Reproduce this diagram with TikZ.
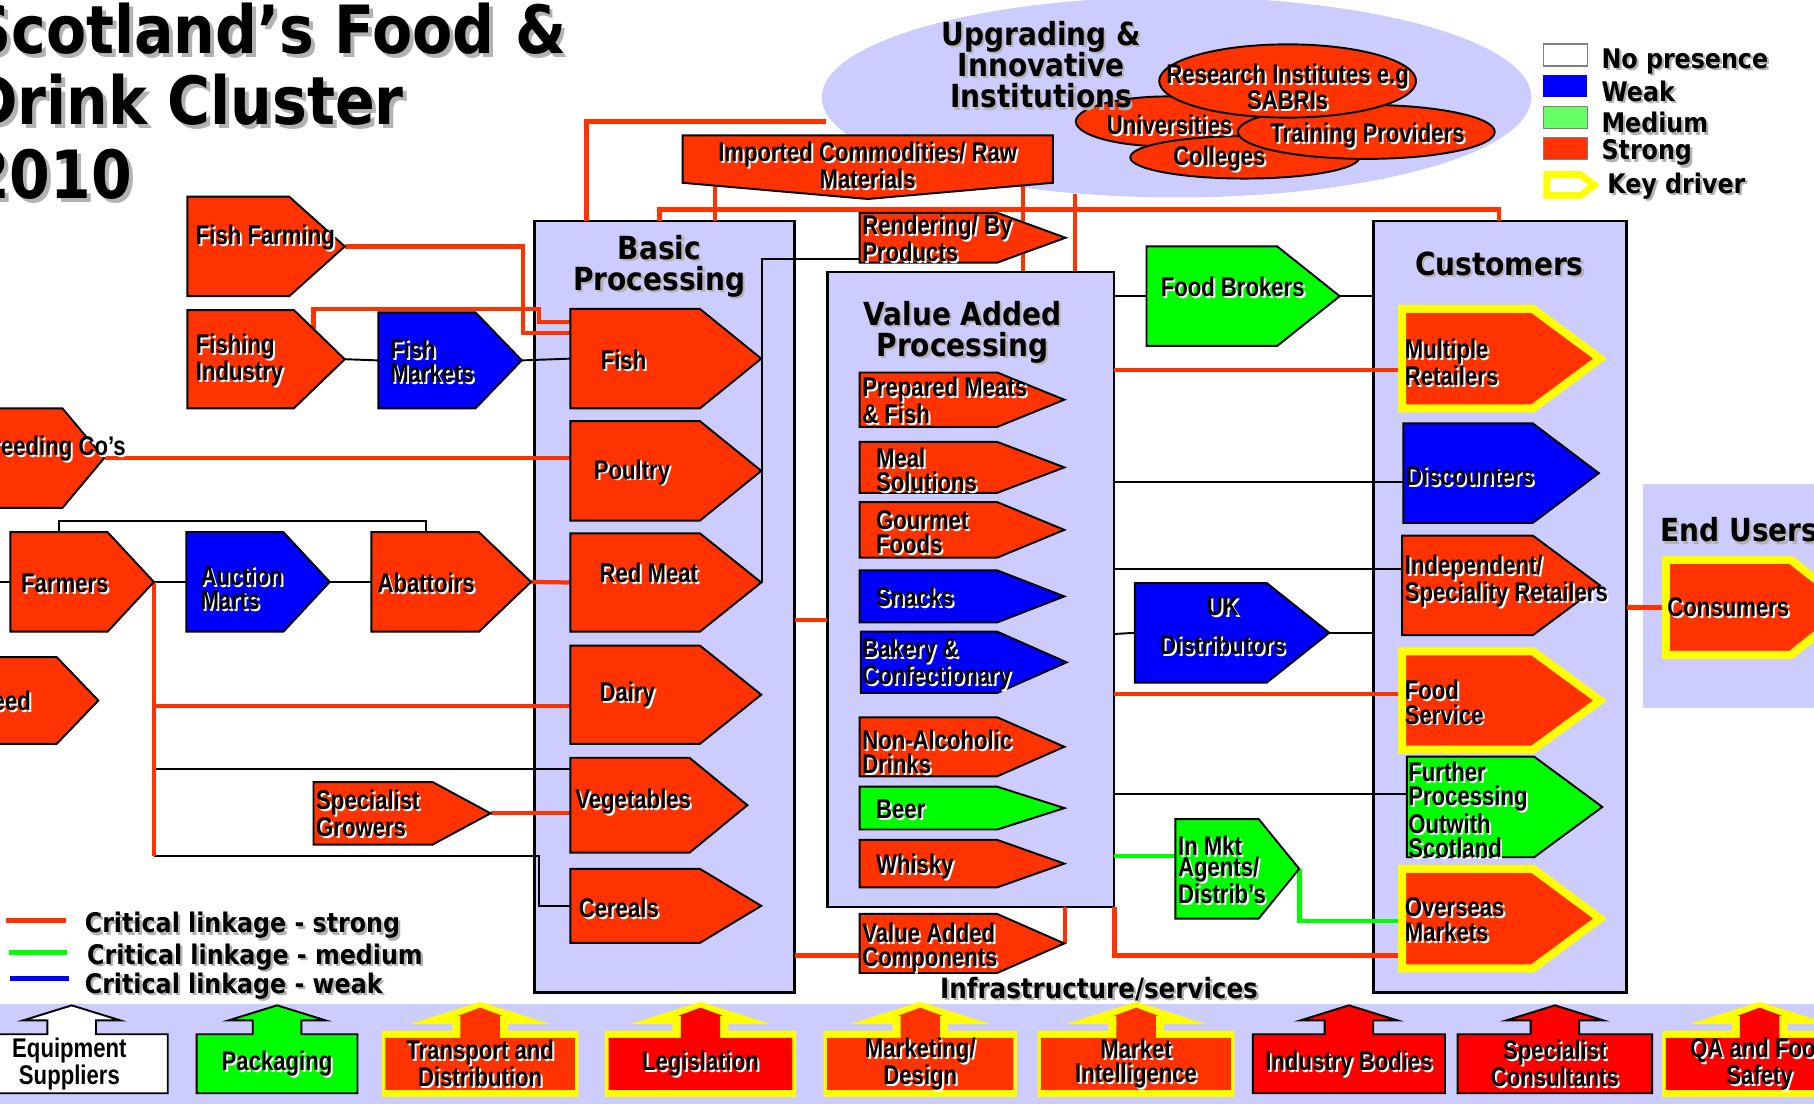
\documentclass[tikz,border=0pt]{standalone}
\usepackage{fontspec}
\usetikzlibrary{fit}
\newfontfamily\nar[FakeStretch=0.82]{Liberation Sans}
\newfontfamily\tah[FakeStretch=0.88]{DejaVu Sans}
\definecolor{sred}{HTML}{FF3300}
\definecolor{pred}{HTML}{FF0000}
\definecolor{sblue}{HTML}{0000FF}
\definecolor{sgreen}{HTML}{00FF00}
\definecolor{lgreen}{HTML}{66FF66}
\definecolor{lav}{HTML}{CCCCFF}
\definecolor{kyel}{HTML}{FFFF00}
\pgfdeclarelayer{bg}\pgfdeclarelayer{lk}\pgfsetlayers{bg,lk,main}
\tikzset{
 shp/.style={draw=black,line width=1pt,line join=miter},
 pr/.style={shp,fill=sred},
 pb/.style={shp,fill=sblue},
 pg/.style={shp,fill=sgreen},
 kd/.style={draw=kyel,line width=4.2pt,line join=miter,fill=sred},
 lbx/.style={draw=black,line width=1.4pt,fill=lav},
 lnks/.style={draw=sred,line width=2.2pt},
 lnkm/.style={draw=sgreen,line width=2.2pt},
 lnkw/.style={draw=sblue,line width=2.2pt},
 blk/.style={draw=black,line width=1pt},
 bt/.style={font=\nar\bfseries\fontsize{14}{12.6}\selectfont,inner sep=0pt,align=left,anchor=west},
 ct/.style={font=\nar\bfseries\fontsize{14}{12.6}\selectfont,inner sep=0pt,align=center},
 hd/.style={font=\tah\bfseries\fontsize{16.5}{16.2}\selectfont,inner sep=0pt,align=center},
 lg/.style={font=\tah\bfseries\fontsize{14}{16}\selectfont,inner sep=0pt,anchor=west},
 ttl/.style={font=\tah\bfseries\fontsize{34.5}{37.8}\selectfont,inner sep=0pt,anchor=base west},
}
% pentagon: name, x1, xtip-start, xtip, y1, y2, style
\newcommand\pent[7]{%
 \path[#7] (#2,#5) -- (#3,#5) -- (#4,{(#5+#6)/2}) -- (#3,#6) -- (#2,#6) -- cycle;
 \node[fit={(#2,#5)(#4,#6)},inner sep=0pt] (#1) {};}
\newcommand\tx[4]{%
 \node[#2,text=white,xshift=1pt,yshift=-1pt] (#1s) at (#3) {#4};
 \node[#2] (#1) at (#3) {#4};}
\newcommand\gtx[4]{%
 \node[#2,text=black!30,xshift=1.2pt,yshift=-1.2pt] (#1s) at (#3) {#4};
 \node[#2] (#1) at (#3) {#4};}
\newcommand\ttx[4]{%
 \node[#2,text=black!30,xshift=2pt,yshift=-2pt] (#1s) at (#3) {#4};
 \node[#2] (#1) at (#3) {#4};}
\newcommand\nbox[5]{%
 \pgfmathsetmacro\bxc{(#2+#3)/2}%
 \path[draw=black,line width=1pt,fill=#4] (#2,894) -- (\bxc-21,894) -- (\bxc-21,882) -- (\bxc-42,882) -- (\bxc,869) -- (\bxc+42,882) -- (\bxc+21,882) -- (\bxc+21,894) -- (#3,894) -- (#3,945) -- (#2,945) -- cycle;
 \node[fit={(#2,894)(#3,945)},inner sep=0pt] (#1) {};
 \tx{#1t}{ct}{#1.center}{#5}}
\newcommand\kbox[5]{%
 \pgfmathsetmacro\bxc{(#2+#3)/2}%
 \fill[kyel] (#2-3,891) -- (\bxc-24,891) -- (\bxc-24,885) -- (\bxc-60,885) -- (\bxc,866) -- (\bxc+60,885) -- (\bxc+24,885) -- (\bxc+24,891) -- (#3+3,891) -- (#3+3,948) -- (#2-3,948) -- cycle;
 \fill[#4] (#2,897) -- (\bxc-17,897) -- (\bxc-17,878) -- (\bxc-19,878) -- (\bxc,871) -- (\bxc+19,878) -- (\bxc+17,878) -- (\bxc+17,897) -- (#3,897) -- (#3,942) -- (#2,942) -- cycle;
 \node[fit={(#2,894)(#3,945)},inner sep=0pt] (#1) {};
 \tx{#1t}{ct}{#1.center}{#5}}
\begin{document}
\begin{tikzpicture}[x=0.6pt,y=-0.6pt]
\useasboundingbox (0,0) rectangle (1568,954);
\begin{pgfonlayer}{bg}
 \fill[white] (0,0) rectangle (1568,954);
 \fill[lav] (1017,84) ellipse [x radius=184pt, y radius=52pt];
 \path[lbx] (462,191) rectangle (687,858);
 \node[fit={(462,191)(687,858)},inner sep=0pt] (bp) {};
 \path[lbx] (715,235) rectangle (963,784);
 \node[fit={(715,235)(963,784)},inner sep=0pt] (va) {};
 \path[lbx] (1187,191) rectangle (1406,858);
 \node[fit={(1187,191)(1406,858)},inner sep=0pt] (cu) {};
 \fill[lav] (1420,418) rectangle (1600,612);
 \node[fit={(1420,418)(1600,612)},inner sep=0pt] (eu) {};
 \fill[lav] (0,868) rectangle (1568,954);
\end{pgfonlayer}
% title
\ttx{t1}{ttl}{-27,46}{Scotland’s Food \&}
\ttx{t2}{ttl}{-27,108}{Drink Cluster}
\ttx{t3}{ttl}{-27,172}{2010}
% upgrading institutions
\path[pr] (1010,105) ellipse [x radius=48pt, y radius=13pt];
\path[pr] (1076,136) ellipse [x radius=59.4pt, y radius=11pt];
\path[pr] (1181,114) ellipse [x radius=66.6pt, y radius=14pt];
\path[pr] (1113,70) ellipse [x radius=66.6pt, y radius=19pt];
\tx{unit}{ct}{1011,108}{Universities}
\tx{colt}{ct}{1054,137}{Colleges}
\tx{trt}{ct}{1182,117}{Training Providers}
\tx{rest}{ct,font=\nar\bfseries\fontsize{14}{10.8}\selectfont}{1113,75}{Research Institutes e.g\\SABRIs}
\gtx{upt}{hd}{900,56}{Upgrading \&\\Innovative\\Institutions}
% legend top right
\path[draw=gray,line width=0.8pt,fill=white] (1334,38) rectangle (1372,57);
\path[fill=sblue] (1334,65) rectangle (1372,84);
\path[draw=gray,line width=0.8pt,fill=lgreen] (1334,92) rectangle (1372,111);
\path[draw=gray,line width=0.8pt,fill=sred] (1334,119) rectangle (1372,138);
\path[draw=kyel,line width=3.6pt,fill=white,line join=miter] (1337,151) -- (1366,151) -- (1378,160) -- (1366,169) -- (1337,169) -- cycle;
\gtx{lnp}{lg}{1384,53}{No presence}
\gtx{lwk}{lg}{1384,79}{Weak}
\gtx{lmd}{lg}{1384,106}{Medium}
\gtx{lst}{lg}{1384,132}{Strong}
\gtx{lkd}{lg}{1389,161}{Key driver}
% left side
\pent{ff}{162}{250}{298}{170}{256}{pr}
\tx{fft}{bt}{169,205}{Fish Farming}
\pent{fi}{162}{254}{298}{268}{353}{pr}
\tx{fint}{bt}{169,311}{Fishing\\Industry}
\pent{fm}{327}{411}{451}{270}{353}{pb}
\tx{fmt}{bt}{337,312}{Fish\\Markets}
\pent{bc}{-60}{54}{90}{353}{439}{pr}
\tx{bct}{bt,anchor=east}{109,388}{Breeding Co’s}
\pent{fa}{9}{93}{133}{460}{546}{pr}
\tx{fat}{bt}{18,504}{Farmers}
\pent{am}{161}{245}{285}{460}{546}{pb}
\tx{amt}{bt}{173,508}{Auction\\Marts}
\pent{ab}{321}{414}{459}{460}{546}{pr}
\tx{abt}{bt}{326,504}{Abattoirs}
\pent{fd}{-60}{49}{85}{568}{643}{pr}
\tx{fdt}{bt,anchor=east}{27,606}{Feed}
\pent{sg}{271}{374}{424}{676}{730}{pr}
\tx{sgt}{bt}{273,703}{Specialist\\Growers}
% basic processing
\gtx{bph}{hd}{570,230}{Basic\\Processing}
\pent{fish}{493}{605}{658}{267}{353}{pr}
\tx{fisht}{bt}{519,311}{Fish}
\pent{pou}{493}{605}{658}{364}{450}{pr}
\tx{pout}{bt}{513,408}{Poultry}
\pent{rm}{493}{605}{658}{461}{546}{pr}
\tx{rmt}{bt}{518,495}{Red Meat}
\pent{da}{493}{605}{658}{558}{643}{pr}
\tx{dat}{bt}{518,600}{Dairy}
\pent{veg}{493}{596}{646}{655}{737}{pr}
\tx{vegt}{bt}{497,693}{Vegetables}
\pent{cer}{493}{605}{658}{751}{815}{pr}
\tx{cert}{bt}{500,785}{Cereals}
% imported / rendering
\path[pr] (590,117) -- (910,117) -- (910,158) -- (750,172) -- (590,158) -- cycle;
\node[fit={(590,117)(910,172)},inner sep=0pt] (imp) {};
\tx{impt}{ct}{750,143}{Imported Commodities/ Raw\\Materials}
\pent{rd}{743}{862}{921}{184}{227}{pr}
\tx{rdt}{bt}{745,206}{Rendering/ By\\Products}
% value added
\gtx{vah}{hd}{832,287}{Value Added\\Processing}
\pent{pm}{743}{862}{920}{322}{369}{pr}
\tx{pmt}{bt}{745,346}{Prepared Meats\\\& Fish}
\pent{ms}{743}{862}{920}{382}{426}{pr}
\tx{mst}{bt}{757,406}{Meal\\Solutions}
\pent{gf}{743}{862}{920}{434}{482}{pr}
\tx{gft}{bt}{757,460}{Gourmet\\Foods}
\pent{sn}{743}{862}{920}{493}{538}{pb}
\tx{snt}{bt}{757,516}{Snacks}
\pent{bk}{744}{862}{922}{546}{599}{pb}
\tx{bkt}{bt}{745,574}{Bakery \&\\Confectionary}
\pent{na}{743}{862}{920}{620}{671}{pr}
\tx{nat}{bt}{745,650}{Non-Alcoholic\\Drinks}
\pent{beer}{743}{862}{920}{680}{717}{pg}
\tx{beert}{bt}{757,700}{Beer}
\pent{wh}{743}{862}{920}{726}{767}{pr}
\tx{wht}{bt}{757,749}{Whisky}
\pent{vac}{743}{862}{920}{790}{841}{pr}
\tx{vact}{bt}{745,819}{Value Added\\Components}
% middle
\pent{fb}{991}{1104}{1158}{213}{299}{pg}
\tx{fbt}{bt}{1003,248}{Food Brokers}
\pent{uk}{981}{1095}{1149}{504}{590}{pb}
\tx{ukt}{ct}{1057,541}{UK\\[8pt]Distributors}
\pent{ima}{1016}{1088}{1123}{708}{794}{pg}
\tx{imat}{bt,font=\nar\bfseries\fontsize{14}{10.8}\selectfont}{1018,752}{In Mkt\\Agents/\\Distrib’s}
% customers
\gtx{cuh}{hd}{1296,228}{Customers}
\pent{mr}{1212}{1325}{1383}{267}{353}{kd}
\tx{mrt}{bt}{1214,313}{Multiple\\Retailers}
\pent{dis}{1213}{1325}{1382}{366}{452}{pb}
\tx{dist}{bt}{1215,411}{Discounters}
\pent{ind}{1212}{1325}{1383}{463}{549}{pr}
\tx{indt}{bt}{1214,502}{Independent/\\Speciality Retailers}
\pent{fs}{1212}{1325}{1383}{563}{648}{kd}
\tx{fst}{bt}{1214,607}{Food\\Service}
\pent{fp}{1216}{1326}{1385}{654}{741}{pg}
\tx{fpt}{bt}{1217,700}{Further\\Processing\\Outwith\\Scotland}
\pent{ov}{1212}{1325}{1383}{751}{837}{kd}
\tx{ovt}{bt}{1214,795}{Overseas\\Markets}
% end users
\gtx{euh}{hd,anchor=west}{1435,458}{End Users}
\pent{cons}{1440}{1548}{1600}{484}{566}{kd}
\tx{const}{bt}{1441,525}{Consumers}
% legend bottom-left
\draw[lnks,line width=2.6pt] (5,796) -- (57,796);
\draw[lnkm,line width=2.6pt] (8,823) -- (58,823);
\draw[lnkw,line width=2.6pt] (9,846) -- (60,846);
\gtx{ls}{lg}{73,800}{Critical linkage - strong}
\gtx{lm}{lg}{75,827}{Critical linkage - medium}
\gtx{lw}{lg}{73,852}{Critical linkage - weak}
\gtx{inf}{hd,font=\tah\bfseries\fontsize{14.5}{16}\selectfont}{950,855}{Infrastructure/services}
% bottom infrastructure
\path[draw=black,line width=1pt,fill=white] (-21,894) -- (41,894) -- (41,882) -- (20,882) -- (62,869) -- (104,882) -- (83,882) -- (83,894) -- (145,894) -- (145,945) -- (-21,945) -- cycle;
\node[fit={(-21,894)(145,945)},inner sep=0pt] (eq) {};
\node[ct] (eqt) at (60,920) {Equipment\\Suppliers};
\nbox{pk}{170}{309}{sgreen}{Packaging}
\kbox{tr}{333}{497}{sred}{Transport and\\Distribution}
\kbox{lgs}{526}{685}{pred}{Legislation}
\kbox{mk}{715}{876}{sred}{Marketing/\\Design}
\kbox{mi}{900}{1064}{sred}{Market\\Intelligence}
\nbox{ib}{1083}{1249}{pred}{Industry Bodies}
\nbox{sc}{1260}{1428}{pred}{Specialist\\Consultants}
\kbox{qa}{1440}{1602}{pred}{QA and Food\\Safety}
% connectors
\begin{pgfonlayer}{lk}
\draw[lnks] (ff.east) -- (452,213) -- (452,288) -- (fish.west |- 0,288);
\draw[lnks] (271,284) -- (271,267) -- (466,267) -- (466,278) -- (fish.west |- 0,278);
\draw[blk] (fi.east) -- (fm.west);
\draw[blk] (fm.east) -- (fish.west);
\draw[lnks] (bc.east) -- (pou.west |- bc.east);
\draw[blk] (fa.north -| 51,0) -- (51,450) -- (368,450) -- (ab.north -| 368,0);
\draw[blk] (-5,503) -- (fa.west);
\draw[blk] (fa.east) -- (am.west);
\draw[blk] (am.east) -- (ab.west);
\draw[lnks] (ab.east) -- (rm.west);
\draw[lnks] (fa.east |- 0,610) -- (da.west |- 0,610);
\draw[blk] (fa.east |- 0,665) -- (veg.west |- 0,665);
\draw[lnks] (sg.east) -- (veg.west |- sg.east);
\draw[blk] (fa.east |- 0,740) -- (466,740) -- (466,783) -- (cer.west);
\draw[lnks] (fa.east) -- (fa.east |- 0,740);
\draw[lnks] (bp.north -| 507,0) -- (507,105) -- (714,105);
\draw[lnks] (618,161) -- (bp.north -| 618,0);
\draw[lnks] (bp.north -| 570,0) -- (570,181) -- (1296,181) -- (cu.north -| 1296,0);
\draw[lnks] (884,161) -- (va.north -| 884,0);
\draw[lnks] (929,168) -- (va.north -| 929,0);
\draw[blk] (rd.west |- 0,224) -- (659,224) -- (659,503.5) -- (rm.east);
\draw[lnks] (bp.east |- 0,536) -- (va.west |- 0,536);
\draw[lnks] (bp.east |- 0,826) -- (vac.west |- 0,826);
\draw[lnks] (vac.east) -- (vac.east |- va.south);
\draw[blk] (va.east |- fb.west) -- (fb.west);
\draw[blk] (fb.east) -- (cu.west |- fb.east);
\draw[lnks] (va.east |- 0,320) -- (mr.west |- 0,320);
\draw[blk] (va.east |- 0,417) -- (dis.west |- 0,417);
\draw[blk] (va.east |- 0,492) -- (ind.west |- 0,492);
\draw[blk] (va.east |- 0,548) -- (uk.west);
\draw[blk] (uk.east) -- (cu.west |- uk.east);
\draw[lnks] (va.east |- 0,600) -- (fs.west |- 0,600);
\draw[blk] (va.east |- 0,686) -- (fp.west |- 0,686);
\draw[lnkm] (va.east |- 0,740) -- (ima.west |- 0,740);
\draw[lnkm] (ima.east) -- (ima.east |- 0,796) -- (ov.west |- 0,796);
\draw[lnks] (va.south east) -- (va.east |- 0,826) -- (ov.west |- 0,826);
\draw[lnks] (cu.east |- cons.west) -- (cons.west);
\end{pgfonlayer}
\end{tikzpicture}
\end{document}
